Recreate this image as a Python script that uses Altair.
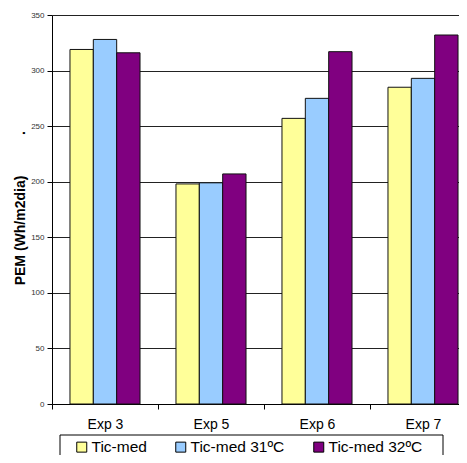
import altair as alt
import pandas as pd

categories = ["Exp 3", "Exp 5", "Exp 6", "Exp 7"]
series = ["Tic-med", "Tic-med 31ºC", "Tic-med 32ºC"]
tic_med = [319, 198, 257, 285]
tic_med_31 = [328, 199, 275, 293]
tic_med_32 = [316, 207, 317, 332]
colors = ["#FFFF99", "#99CCFF", "#800080"]
y_ticks = [0, 50, 100, 150, 200, 250, 300, 350]

rows = []
for s, vals in zip(series, [tic_med, tic_med_31, tic_med_32]):
    for c, v in zip(categories, vals):
        rows.append({"exp": c, "serie": s, "pem": v})
df = pd.DataFrame(rows)

FONT = "Liberation Sans"

bars = alt.Chart(df).mark_bar(stroke="#111111", strokeWidth=1).encode(
    x=alt.X("exp:N", sort=categories,
            scale=alt.Scale(range=[0, 424], paddingInner=0, paddingOuter=0),
            axis=alt.Axis(title=None, labelAngle=0, tickBand="extent",
                          labelFont=FONT, labelFontSize=14, labelColor="#000",
                          labelPadding=8, domainColor="#000", tickColor="#000",
                          tickSize=5, grid=False)),
    xOffset=alt.XOffset("serie:N", sort=series,
                        scale=alt.Scale(paddingInner=0, paddingOuter=0.77)),
    y=alt.Y("pem:Q", scale=alt.Scale(domain=[0, 350], nice=False),
            axis=alt.Axis(title="PEM (Wh/m2dia)", values=y_ticks,
                          titleFont=FONT, titleFontSize=14, titleFontWeight="bold",
                          titleColor="#000", titleX=-25, titleY=215,
                          titleBaseline="bottom", titleAngle=270,
                          labelFont=FONT, labelFontSize=8, labelColor="#333",
                          labelPadding=3, tickSize=5, tickColor="#000",
                          domainColor="#000", grid=True, gridColor="#222",
                          gridOpacity=1)),
    color=alt.Color("serie:N", sort=series,
                    scale=alt.Scale(domain=series, range=colors),
                    legend=alt.Legend(title=None, orient="none", legendX=22, legendY=424,
                                      direction="horizontal", padding=0,
                                      symbolType="square", symbolSize=100,
                                      symbolStrokeColor="#000", symbolStrokeWidth=1,
                                      labelFont=FONT, labelFontSize=15.5, labelColor="#000",
                                      columnPadding=26, labelOffset=2)),
)

legend_box = alt.Chart(pd.DataFrame({"k": [1]})).mark_rect(
    fill=None, stroke="#000", strokeWidth=1
).encode(x=alt.value(8), x2=alt.value(391), y=alt.value(420), y2=alt.value(470))

dot = alt.Chart(pd.DataFrame({"t": ["."]})).mark_text(
    font=FONT, fontSize=14, fontWeight="bold", color="#000", angle=270
).encode(text="t:N", x=alt.value(-31), y=alt.value(118))

chart = alt.layer(bars, legend_box, dot).properties(
    width=407, height=389,
    autosize=alt.AutoSizeParams(type="none"),
    padding={"left": 44, "top": 7, "right": 0, "bottom": 51},
).configure_view(stroke=None)

chart.save("out.html", embed_options={"renderer": "svg", "actions": False})
